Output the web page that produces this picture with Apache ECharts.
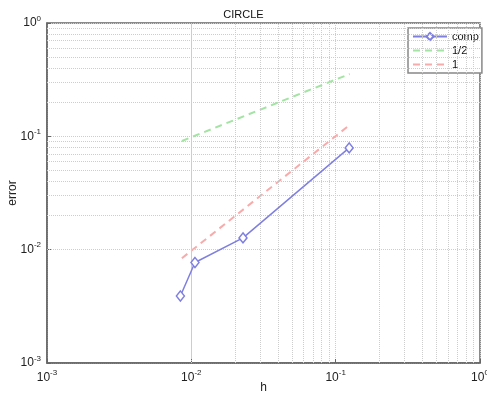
<!DOCTYPE html>
<html>
<head>
<meta charset="utf-8">
<script src="https://cdn.jsdelivr.net/npm/echarts@6/dist/echarts.min.js"></script>
<style>
  html, body { margin: 0; padding: 0; background: #fff; }
  #chart { width: 487px; height: 397px; }
</style>
</head>
<body>
<div id="chart"></div>
<script>
// comp: measured error against mesh size h
const compH = [0.0084, 0.0106, 0.0228, 0.124]
const compErr = [0.0039, 0.0077, 0.0127, 0.079]
// reference slopes
const halfH = [0.0086, 0.125]
const halfErr = [0.091, 0.355]
const oneH = [0.0086, 0.125]
const oneErr = [0.0084, 0.126]
// dotted grid positions (minor decades)
const minorX = [2e-3, 3e-3, 4e-3, 5e-3, 6e-3, 7e-3, 8e-3, 9e-3, 2e-2, 3e-2, 4e-2, 5e-2, 6e-2, 7e-2, 8e-2, 9e-2, 2e-1, 3e-1, 4e-1, 5e-1, 6e-1, 7e-1, 8e-1, 9e-1]
const minorY = minorX

const fontFamily = "Liberation Sans, Arial, sans-serif"
const gridColor = "#cdcdcd"

function powLabel(value) {
    const p = Math.round(Math.log10(value))
    return "{b|10}{s|" + p + "}"
}

const richText = {
    b: { fontSize: 12, color: "#222", fontFamily },
    s: { fontSize: 8, color: "#222", fontFamily, padding: [0, 0, 9, 0] },
}

// hide the marker in the legend for plain dashed lines
const noMarker = { color: "transparent", borderColor: "transparent", opacity: 0 }

const chart = echarts.init(document.getElementById("chart"))

chart.setOption({
    animation: false,
    title: {
        text: "CIRCLE",
        left: "center",
        top: 4,
        textStyle: { fontSize: 11, fontWeight: "normal", color: "#111", fontFamily },
    },
    grid: {
        left: 47,
        right: 7,
        top: 23,
        bottom: 34,
        outerBoundsMode: "none",
        containLabel: false,
        show: true,
        borderColor: "#666",
        borderWidth: 1.5,
    },
    legend: {
        orient: "vertical",
        left: 408,
        top: 28,
        backgroundColor: "#fff",
        borderColor: "#888",
        borderWidth: 1.5,
        padding: [3, 3, 3, 4],
        itemGap: 3,
        itemWidth: 34,
        itemHeight: 9,
        textStyle: { fontSize: 11, color: "#111", fontFamily },
        data: [
            { name: "comp" },
            { name: "1/2", itemStyle: noMarker },
            { name: "1", itemStyle: noMarker },
        ],
    },
    xAxis: {
        type: "log",
        logBase: 10,
        min: 0.001,
        max: 1,
        name: "h",
        nameLocation: "middle",
        nameGap: 19,
        nameMoveOverlap: false,
        nameTextStyle: { fontSize: 12, color: "#222", fontFamily },
        axisLine: { show: true, onZero: false, lineStyle: { color: "#666", width: 1.5 } },
        axisTick: { show: true, inside: true, length: 4, lineStyle: { color: "#666" } },
        axisLabel: { formatter: powLabel, rich: richText, margin: 6 },
        splitLine: { show: true, lineStyle: { color: gridColor, type: "dotted" } },
    },
    yAxis: {
        type: "log",
        logBase: 10,
        min: 0.001,
        max: 1,
        name: "error",
        nameLocation: "middle",
        nameGap: 28,
        nameMoveOverlap: false,
        nameTextStyle: { fontSize: 12, color: "#222", fontFamily },
        axisLine: { show: true, onZero: false, lineStyle: { color: "#666", width: 1.5 } },
        axisTick: { show: true, inside: true, length: 4, lineStyle: { color: "#666" } },
        axisLabel: { formatter: powLabel, rich: richText, margin: 6 },
        splitLine: { show: true, lineStyle: { color: gridColor, type: "dotted" } },
    },
    series: [
        {
            name: "grid",
            type: "line",
            data: [],
            silent: true,
            markLine: {
                silent: true,
                symbol: "none",
                label: { show: false },
                lineStyle: { color: gridColor, type: "dotted", width: 1 },
                data: minorX.map(v => ({ xAxis: v })).concat(minorY.map(v => ({ yAxis: v }))),
            },
        },
        {
            name: "1/2",
            type: "line",
            symbol: "none",
            data: halfH.map((h, i) => [h, halfErr[i]]),
            lineStyle: { color: "#a3e3a3", width: 2, type: [7, 5] },
            itemStyle: { color: "#a3e3a3" },
        },
        {
            name: "1",
            type: "line",
            symbol: "none",
            data: oneH.map((h, i) => [h, oneErr[i]]),
            lineStyle: { color: "#f7abab", width: 2, type: [7, 5] },
            itemStyle: { color: "#f7abab" },
        },
        {
            name: "comp",
            type: "line",
            symbol: "diamond",
            symbolSize: [8, 10],
            data: compH.map((h, i) => [h, compErr[i]]),
            lineStyle: { color: "#7f7fe0", width: 1.5 },
            itemStyle: { color: "#fff", borderColor: "#7f7fe0", borderWidth: 1.5 },
            z: 5,
        },
    ],
})
</script>
</body>
</html>
